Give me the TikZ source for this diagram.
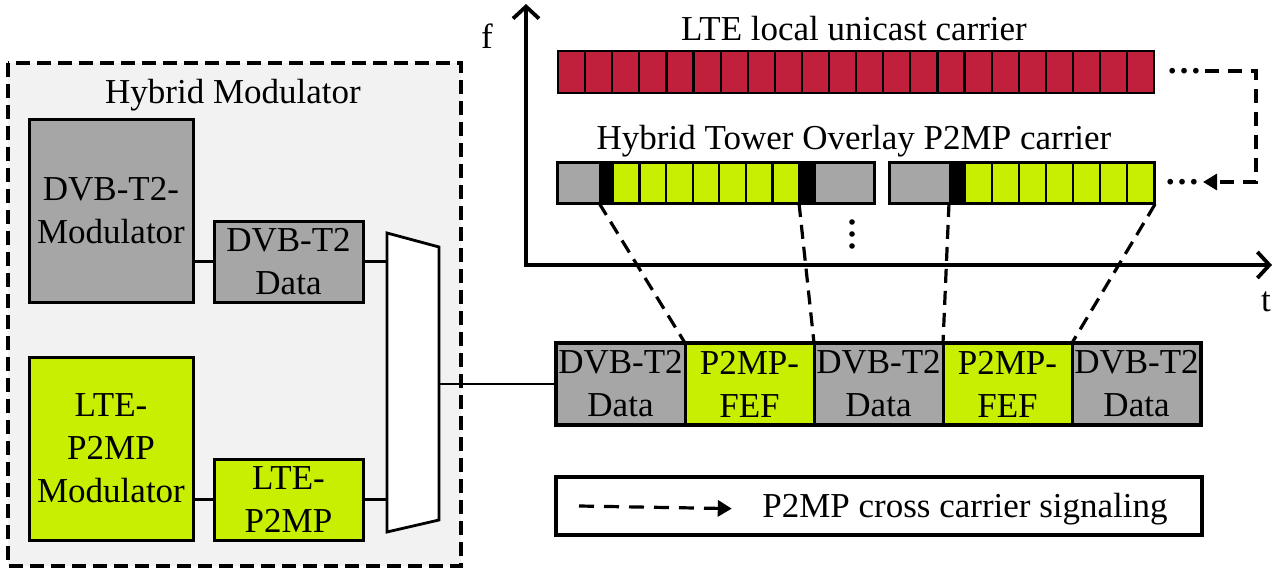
\documentclass[tikz,border=0pt]{standalone}
\usepackage{fontspec}
\setmainfont{Liberation Serif}
\usetikzlibrary{positioning}
\usetikzlibrary{arrows.meta}

\definecolor{dvbgray}{HTML}{A6A6A6}
\definecolor{p2mpgreen}{HTML}{C8EE00}
\definecolor{ltered}{HTML}{C0203C}
\definecolor{modbg}{HTML}{F2F2F2}

\begin{document}
\begin{tikzpicture}[x=1pt,y=-1pt,
    every node/.style={font=\fontsize{35}{43}\selectfont},
    block/.style={draw,line width=3pt,align=center,inner sep=0pt,outer sep=0pt},
    frame/.style={block,minimum width=129pt,minimum height=82pt},
    slot/.style={fill=black,inner sep=0pt,outer sep=0pt,minimum height=40pt},
    cell/.style={draw,line width=2.2pt},
    link/.style={line width=3pt},
    mapping/.style={line width=3.2pt,dash pattern=on 14pt off 8pt},
    signal/.style={line width=3.2pt,dash pattern=on 14pt off 9pt,-{Triangle[length=14pt,width=16pt]}},
    axis/.style={line width=3.8pt,-{Straight Barb[length=12pt,width=26pt]}}]
    \useasboundingbox (0,0) rectangle (1279,569);

    % hybrid modulator
    \draw[line width=3.5pt,dash pattern=on 14pt off 7pt,fill=modbg] (8,63) rectangle (461,566);
    \node[anchor=base] (hmlabel) at (233,104) {Hybrid Modulator};

    \node[block,fill=dvbgray,minimum width=164pt,minimum height=182pt] (dvbmod) at (111,211) {DVB-T2-\\Modulator};
    \node[block,fill=dvbgray,minimum width=149pt,minimum height=80pt] (dvbdata) at (288.5,262) {DVB-T2\\Data};
    \node[block,fill=p2mpgreen,minimum width=164pt,minimum height=183pt] (ltemod) at (111,448.5) {LTE-\\P2MP\\Modulator};
    \node[block,fill=p2mpgreen,minimum width=149pt,minimum height=81pt] (ltedata) at (288.5,499.5) {LTE-\\P2MP};

    \draw[line width=2.8pt,fill=white] (387,233) -- (439,247) -- (439,520) -- (387,532) -- cycle;
    \coordinate (muxin) at (387,382);
    \coordinate (muxout) at (439,382);

    \draw[link] (dvbmod.east |- dvbdata.west) -- (dvbdata.west);
    \draw[link] (ltemod.east |- ltedata.west) -- (ltedata.west);
    \draw[link] (dvbdata.east) -- (dvbdata.east -| muxin);
    \draw[link] (ltedata.east) -- (ltedata.east -| muxin);

    % frame sequence
    \node[frame,fill=dvbgray] (f1) at (620.5,384) {DVB-T2\\Data};
    \node[frame,fill=p2mpgreen,right=0pt of f1] (f2) {P2MP-\\FEF};
    \node[frame,fill=dvbgray,right=0pt of f2] (f3) {DVB-T2\\Data};
    \node[frame,fill=p2mpgreen,right=0pt of f3] (f4) {P2MP-\\FEF};
    \node[frame,fill=dvbgray,right=0pt of f4] (f5) {DVB-T2\\Data};
    \draw[line width=4.5pt] (f1.north west) rectangle (f5.south east);

    \draw[line width=2.5pt] (muxout |- f1.west) -- (f1.west);

    % time/frequency axes
    \coordinate (origin) at (526,265);
    \draw[axis] (origin) -- (526,4);
    \draw[axis] ([xshift=-2pt]origin) -- (1272,265);
    \node[anchor=base] (flabel) at (487,49) {f};
    \node[anchor=base] (tlabel) at (1266,311) {t};

    % LTE carrier
    \node[anchor=base] (ltelabel) at (854,41) {LTE local unicast carrier};
    \foreach \i in {0,...,21}
    \draw[cell,fill=ltered] ({558+27.1*\i},51) rectangle +(27.1,42);

    % tower overlay carrier
    \node[anchor=base] (p2mplabel) at (854,150) {Hybrid Tower Overlay P2MP carrier};
    \node[cell,fill=dvbgray,inner sep=0pt,minimum width=316pt,minimum height=40pt] (seg1) at (716,183) {};
    \node[cell,fill=dvbgray,inner sep=0pt,minimum width=264pt,minimum height=40pt] (seg2) at (1022,183) {};
    \foreach \i in {0,...,6}
    \draw[cell,fill=p2mpgreen] ({613+26.57*\i},163) rectangle +(26.57,40);
    \foreach \i in {0,...,6}
    \draw[cell,fill=p2mpgreen] ({965+27*\i},163) rectangle +(27,40);
    \node[slot,minimum width=14pt] (sig1) at (606,183) {};
    \node[slot,minimum width=17pt] (sig2) at (807.5,183) {};
    \node[slot,minimum width=16pt] (sig3) at (957,183) {};
    \draw[cell] (seg1.north west) rectangle (seg1.south east);
    \draw[cell] (seg2.north west) rectangle (seg2.south east);

    \foreach \y in {222,234,246}
    \fill (852,\y) circle (2.8pt);

    \draw[mapping] (sig1.south west) -- (f1.north east);
    \draw[mapping] (sig2.south west) -- (f2.north east);
    \draw[mapping] (sig3.south west) -- (f3.north east);
    \draw[mapping] (seg2.south east) -- (f4.north east);

    % cross carrier signaling
    \node (ltedots) at (1184,71) {\bfseries\dots};
    \node (p2mpdots) at (1182,182) {\bfseries\dots};
    \coordinate (turn) at (1256,120);
    \draw[signal] (ltedots.east) -| (turn) |- (p2mpdots.east);

    % legend
    \node[draw,line width=3.5pt,inner sep=0pt,outer sep=0pt,minimum width=646pt,minimum height=58pt] (legend) at (879,506) {};
    \node[anchor=base] (legtext) at (965,517) {P2MP cross carrier signaling};
    \draw[signal,dash pattern=on 15pt off 10pt] ([xshift=23pt]legend.west) -- ([xshift=-27pt]legtext.west);
\end{tikzpicture}
\end{document}
